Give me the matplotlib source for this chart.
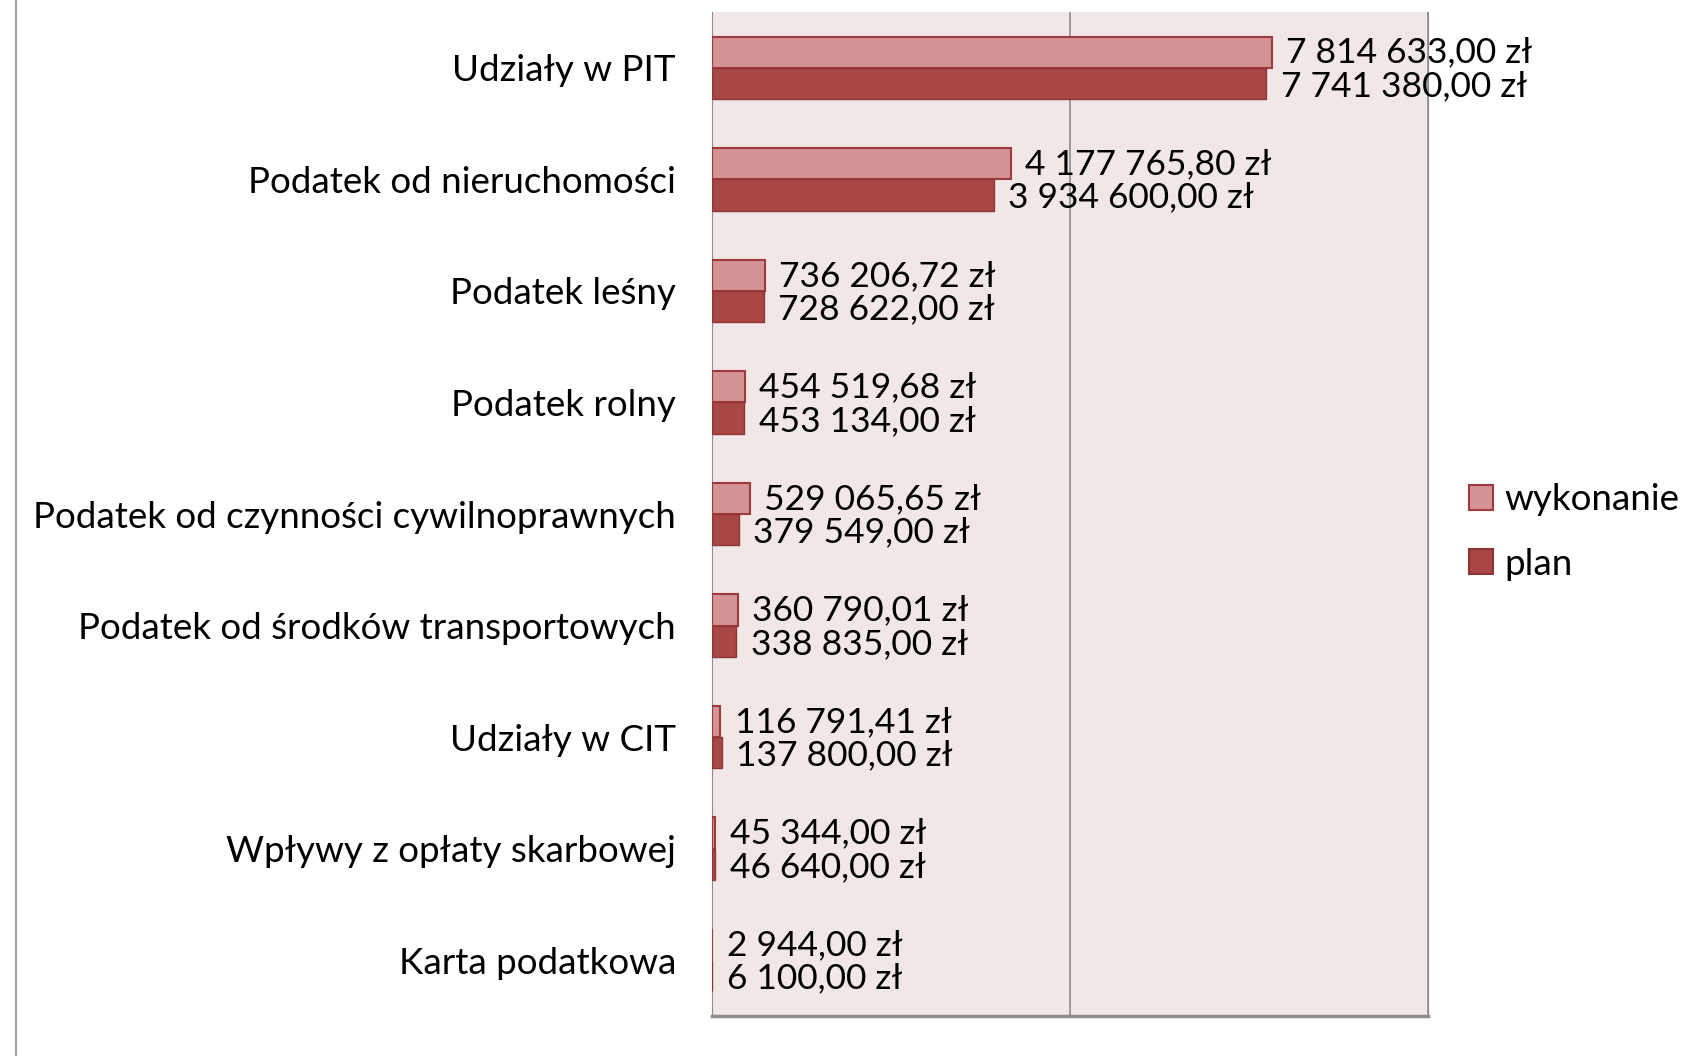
import matplotlib
matplotlib.use("Agg")
import matplotlib.pyplot as plt
from matplotlib.patches import Patch
from matplotlib.lines import Line2D

categories = ["Udziały w PIT", "Podatek od nieruchomości", "Podatek leśny", "Podatek rolny",
              "Podatek od czynności cywilnoprawnych", "Podatek od środków transportowych",
              "Udziały w CIT", "Wpływy z opłaty skarbowej", "Karta podatkowa"]
wykonanie = [7814633.00, 4177765.80, 736206.72, 454519.68, 529065.65, 360790.01, 116791.41, 45344.00, 2944.00]
plan = [7741380.00, 3934600.00, 728622.00, 453134.00, 379549.00, 338835.00, 137800.00, 46640.00, 6100.00]
series_names = ["wykonanie", "plan"]

def fmt(v):
    s = f"{v:,.2f}".replace(",", " ").replace(".", ",")
    return s + " zł"

plt.rcParams['font.family'] = ['Lato', 'DejaVu Sans']

fig = plt.figure(figsize=(16.86, 10.56), dpi=100)
ax = fig.add_axes([712/1686, 1-1016/1056, (1428-712)/1686, (1016-12)/1056])
ax.set_facecolor("#F2E7E7")

c_w, e_w = "#D49394", "#A0393B"
c_p, e_p = "#A94646", "#8E3535"
h = 0.28
y = list(range(len(categories)))
ax.barh([i - h/2 for i in y], wykonanie, height=h, color=c_w, edgecolor=e_w, linewidth=1.5, zorder=3)
ax.barh([i + h/2 for i in y], plan, height=h, color=c_p, edgecolor=e_p, linewidth=1.0, zorder=3)

fs_lab = 25.5
for i in y:
    ax.text(wykonanie[i] + 200000, i - h/2 + 0.005, fmt(wykonanie[i]), va="center", ha="left", fontsize=fs_lab, zorder=4)
    ax.text(plan[i] + 200000, i + h/2 + 0.025, fmt(plan[i]), va="center", ha="left", fontsize=fs_lab, zorder=4)

ax.set_xlim(0, 10000000)
ax.set_ylim(len(categories) - 0.5, -0.5)
ax.set_xticks([0, 5000000, 10000000])
ax.set_xticklabels([])
ax.tick_params(axis="x", length=0)
ax.grid(axis="x", color="#8C8C8C", linewidth=1.2, zorder=1)
ax.set_yticks(y)
ax.set_yticklabels(categories, fontsize=26.5)
ax.tick_params(axis="y", length=0, pad=26)
ax.spines["top"].set_visible(False)
ax.spines["left"].set_color("#8C8C8C")
ax.spines["right"].set_color("#8C8C8C")
ax.spines["bottom"].set_color("#8C8C8C")
ax.spines["bottom"].set_linewidth(2.5)

handles = [Patch(facecolor=c_w, edgecolor=e_w, linewidth=1.5), Patch(facecolor=c_p, edgecolor=e_p, linewidth=1.5)]
fig.legend(handles, series_names, loc="center left", bbox_to_anchor=(1436/1686, 1-532/1056),
           frameon=False, fontsize=26.5, handlelength=0.65, handleheight=0.65, handletextpad=0.3,
           labelspacing=0.85)

fig.add_artist(Line2D([16/1686, 16/1686], [0, 1], color="#A0A0A0", linewidth=1.5))

fig.savefig("out.png", dpi=100)
